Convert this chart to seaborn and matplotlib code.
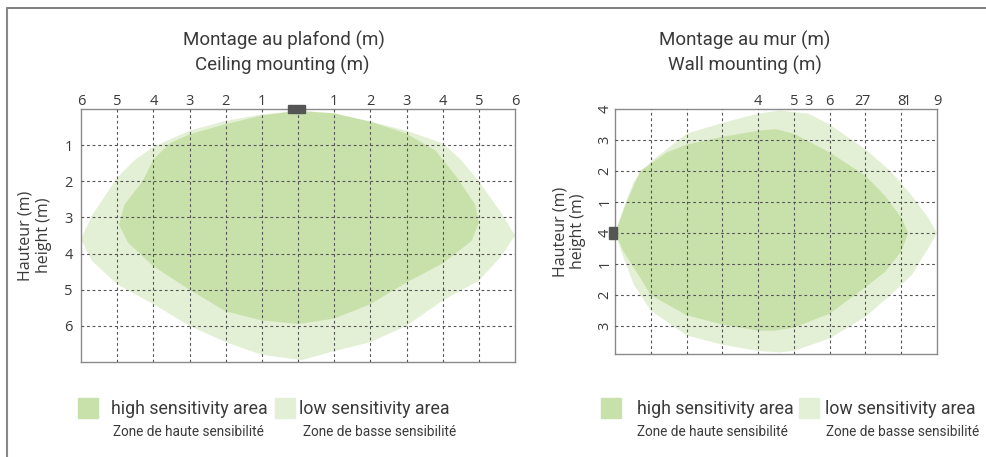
import matplotlib
matplotlib.use("Agg")
import matplotlib.pyplot as plt
import matplotlib.lines as mlines
import seaborn as sns

sns.set_theme(style="white")
plt.rcParams['font.family'] = ['Roboto', 'DejaVu Sans']

# colours
high_col = "#c8e1ab"
low_col = "#e4f0d6"
grid_col = "#555555"
txt_col = "#3a3a3a"
tick_font = ['Open Sans', 'DejaVu Sans']

# --- ceiling mounting (x: -6..6 m, y: depth 0..7 m) ---
ceil_low_x = [0.0, 1, 2, 3, 4, 4.5, 5, 5.6, 6.0, 5.6, 5, 4, 3, 2, 1, 0.1,
              -1, -2, -3, -4, -5, -5.7, -6.0, -5.7, -5, -4.5, -4, -3, -2, -1]
ceil_low_y = [0.05, 0.17, 0.35, 0.6, 0.95, 1.4, 2.0, 2.85, 3.5, 4.1, 4.75, 5.3, 6.0, 6.45, 6.7, 6.95,
              6.8, 6.45, 6.0, 5.4, 4.85, 4.2, 3.6, 2.95, 1.9, 1.4, 1.05, 0.6, 0.33, 0.15]
ceil_high_x = [0.0, 1, 2, 3, 3.8, 4.4, 4.9, 5.0, 4.8, 4, 3, 2, 1, 0,
               -1, -2, -3, -4, -4.7, -4.95, -4.8, -4.3, -4, -3.55, -3, -2, -1]
ceil_high_y = [0.05, 0.12, 0.35, 0.68, 1.15, 1.9, 2.65, 3.15, 3.65, 4.27, 4.8, 5.4, 5.8, 5.95,
               5.85, 5.6, 5.0, 4.35, 3.7, 3.2, 2.65, 2.0, 1.4, 0.95, 0.7, 0.42, 0.18]
ceil_xtick_pos = [-6, -5, -4, -3, -2, -1, 1, 2, 3, 4, 5, 6]
ceil_xtick_lab = ["6", "5", "4", "3", "2", "1", "1", "2", "3", "4", "5", "6"]
ceil_ytick_pos = [1, 2, 3, 4, 5, 6]
ceil_ytick_lab = ["1", "2", "3", "4", "5", "6"]
ceil_grid_x = [-5, -4, -3, -2, -1, 0, 1, 2, 3, 4, 5]
ceil_grid_y = [1, 2, 3, 4, 5, 6]

# --- wall mounting (x: 0..9 m, y: -3.9..4 m) ---
wall_low_x = [0.0, 0.24, 0.52, 1, 2, 3, 4, 4.6, 5.4, 6, 7, 7.7, 8.3, 8.75, 9.0,
              8.75, 8.3, 7.7, 7, 6, 5, 4.6, 4, 3, 2, 1, 0.52, 0.24]
wall_low_y = [0.0, 0.8, 1.65, 2.3, 3.2, 3.55, 3.85, 3.95, 3.85, 3.5, 2.7, 2.0, 1.2, 0.5, 0.0,
              -0.5, -1.35, -2.0, -2.7, -3.4, -3.8, -3.85, -3.8, -3.6, -3.3, -2.5, -1.65, -0.8]
wall_high_x = [0.0, 0.33, 0.7, 1.45, 2, 3, 4, 4.5, 5, 6, 7, 7.55, 8, 8.2,
               8, 7.55, 7, 6, 5, 4.45, 4, 3, 2, 1, 0.52, 0.24]
wall_high_y = [0.0, 1.0, 2.0, 2.6, 2.85, 3.1, 3.3, 3.35, 3.2, 2.6, 1.85, 1.2, 0.5, 0.0,
               -0.6, -1.25, -1.75, -2.6, -3.05, -3.15, -3.15, -2.95, -2.65, -2.0, -1.1, -0.6]
wall_xtick_pos = [4, 5, 5.4, 6, 6.8, 7, 8, 8.15, 9]
wall_xtick_lab = ["4", "5", "3", "6", "2", "7", "8", "1", "9"]
wall_ytick_pos = [4, 3, 2, 1, 0, -1, -2, -3]
wall_ytick_lab = ["4", "3", "2", "1", "4", "1", "2", "3"]
wall_grid_x = [1, 2, 3, 4, 5, 6, 7, 8]
wall_grid_y = [3, 2, 1, 0, -1, -2, -3]

fig = plt.figure(figsize=(9.87, 4.57), dpi=100)
ax1 = fig.add_axes([0.0821, 0.2079, 0.4397, 0.5536])
ax2 = fig.add_axes([0.6231, 0.2254, 0.3262, 0.5361])


def style_axes(ax):
    ax.set_facecolor("white")
    for sp in ax.spines.values():
        sp.set_color("#8a8a8a")
        sp.set_linewidth(1.0)
    ax.tick_params(length=0, colors=txt_col)


def draw_grid(ax, gx, gy):
    for v in gx:
        ax.axvline(v, color=grid_col, lw=0.8, ls=(0, (2.5, 2.5)), zorder=3)
    for v in gy:
        ax.axhline(v, color=grid_col, lw=0.8, ls=(0, (2.5, 2.5)), zorder=3)


# ceiling chart
style_axes(ax1)
ax1.fill(ceil_low_x, ceil_low_y, color=low_col, lw=0, zorder=1)
ax1.fill(ceil_high_x, ceil_high_y, color=high_col, lw=0, zorder=2)
draw_grid(ax1, ceil_grid_x, ceil_grid_y)
ax1.set_xlim(-6, 6)
ax1.set_ylim(7, 0)
ax1.xaxis.tick_top()
ax1.set_xticks(ceil_xtick_pos, ceil_xtick_lab, family=tick_font, fontsize=10.5)
ax1.set_yticks(ceil_ytick_pos, ceil_ytick_lab, family=tick_font, fontsize=10.5)
ax1.tick_params(axis='x', pad=0)
ax1.tick_params(axis='y', pad=6)
ax1.add_patch(plt.Rectangle((-0.27, -0.12), 0.46, 0.22, color="#555555", zorder=5, clip_on=False))
ax1.set_ylabel("Hauteur (m)\nheight (m)", fontsize=11.5, color=txt_col,
               family=tick_font, linespacing=1.15, labelpad=9)

# wall chart
style_axes(ax2)
ax2.fill(wall_low_x, wall_low_y, color=low_col, lw=0, zorder=1)
ax2.fill(wall_high_x, wall_high_y, color=high_col, lw=0, zorder=2)
draw_grid(ax2, wall_grid_x, wall_grid_y)
ax2.set_xlim(0, 9)
ax2.set_ylim(-3.9, 4)
ax2.xaxis.tick_top()
ax2.set_xticks(wall_xtick_pos, wall_xtick_lab, family=tick_font, fontsize=10.5)
ax2.set_yticks(wall_ytick_pos, wall_ytick_lab, family=tick_font, fontsize=10.5,
               rotation=90, va='center')
ax2.tick_params(axis='x', pad=0)
ax2.tick_params(axis='y', pad=2)
ax2.add_patch(plt.Rectangle((-0.17, -0.2), 0.22, 0.4, color="#555555", zorder=5, clip_on=False))
ax2.set_ylabel("Hauteur (m)\nheight (m)", fontsize=11.5, color=txt_col,
               family=tick_font, linespacing=1.15, labelpad=8)

# titles
fig.text(284 / 987, 1 - 40 / 457, "Montage au plafond (m)", ha='center', va='center',
         fontsize=13.5, color=txt_col)
fig.text(282 / 987, 1 - 65 / 457, "Ceiling mounting (m)", ha='center', va='center',
         fontsize=13.5, color=txt_col)
fig.text(745 / 987, 1 - 40 / 457, "Montage au mur (m)", ha='center', va='center',
         fontsize=13.5, color=txt_col)
fig.text(745 / 987, 1 - 65 / 457, "Wall mounting (m)", ha='center', va='center',
         fontsize=13.5, color=txt_col)


# legends
def legend_item(x_sw, x_txt, x_sub, col, label, sub):
    fig.patches.append(plt.Rectangle((x_sw / 987, 1 - 418 / 457), 20 / 987, 20 / 457,
                                     color=col, transform=fig.transFigure, figure=fig))
    fig.text(x_txt / 987, 1 - 409 / 457, label, ha='left', va='center', fontsize=12.8,
             color=txt_col)
    fig.text(x_sub / 987, 1 - 432 / 457, sub, ha='left', va='center', fontsize=9.8,
             color=txt_col)


legend_item(78, 111, 113, high_col, "high sensitivity area", "Zone de haute sensibilité")
legend_item(275, 299, 303, low_col, "low sensitivity area", "Zone de basse sensibilité")
legend_item(601, 637, 637, high_col, "high sensitivity area", "Zone de haute sensibilité")
legend_item(799, 825, 826, low_col, "low sensitivity area", "Zone de basse sensibilité")

# outer frame (top and left edge)
fig.add_artist(mlines.Line2D([7 / 987, 1], [1 - 8 / 457, 1 - 8 / 457], color="#666666", lw=1.2))
fig.add_artist(mlines.Line2D([7 / 987, 7 / 987], [0, 1 - 8 / 457], color="#888888", lw=1.5))

fig.savefig("out.png", dpi=100)
